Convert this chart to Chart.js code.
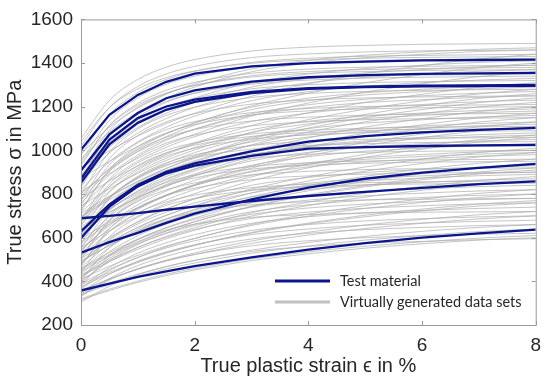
<!DOCTYPE html>
<html>
<head>
<meta charset="utf-8">
<script src="https://cdn.jsdelivr.net/npm/chart.js@4.4.1/dist/chart.umd.min.js"></script>
<style>
  html, body { margin: 0; padding: 0; background: #fff; }
</style>
</head>
<body>
<canvas id="stress-chart" width="550" height="384"></canvas>
<script>
'use strict'

const strain = [0, 0.5, 1, 1.5, 2, 3, 4, 5, 6, 7, 8];
const xTicks = [0, 2, 4, 6, 8];
const yTicks = [200, 400, 600, 800, 1000, 1200, 1400, 1600];
const seriesNames = ['Test material', 'Virtually generated data sets'];

// measured flow curves (blue)
const testCurves = [
    [1003, 1163, 1254, 1314, 1352, 1385, 1400, 1407, 1412, 1414, 1416],
    [908, 1073, 1171, 1239, 1275, 1315, 1335, 1345, 1350, 1353, 1355],
    [870, 1050, 1148, 1201, 1232, 1268, 1285, 1292, 1296, 1298, 1300],
    [852, 1028, 1126, 1186, 1222, 1262, 1282, 1290, 1293, 1295, 1296],
    [629, 752, 842, 902, 940, 995, 1040, 1065, 1082, 1094, 1103],
    [599, 742, 835, 895, 930, 975, 1008, 1015, 1020, 1023, 1025],
    [689, 700, 713, 728, 742, 768, 791, 810, 828, 845, 858],
    [531, 580, 622, 668, 710, 775, 829, 870, 898, 920, 938],
    [358, 390, 420, 446, 470, 510, 545, 575, 600, 620, 637]
];

// virtually generated curves (grey)
const virtualCurves = [
    [1055, 1229, 1325, 1381, 1416, 1455, 1473, 1481, 1486, 1488, 1490],
    [1040, 1196, 1282, 1333, 1364, 1399, 1414, 1422, 1426, 1428, 1430],
    [1020, 1196, 1293, 1350, 1385, 1425, 1442, 1451, 1456, 1458, 1460],
    [985, 1106, 1194, 1257, 1305, 1373, 1412, 1436, 1451, 1463, 1470],
    [980, 1164, 1265, 1325, 1362, 1403, 1422, 1431, 1435, 1438, 1440],
    [960, 1085, 1175, 1240, 1290, 1360, 1400, 1425, 1440, 1453, 1460],
    [950, 1138, 1241, 1303, 1340, 1382, 1401, 1411, 1415, 1418, 1420],
    [940, 1112, 1207, 1263, 1297, 1336, 1353, 1361, 1366, 1368, 1370],
    [930, 1114, 1215, 1275, 1312, 1353, 1372, 1381, 1385, 1388, 1390],
    [920, 998, 1066, 1123, 1170, 1248, 1305, 1352, 1388, 1419, 1440],
    [910, 1035, 1125, 1190, 1240, 1310, 1350, 1375, 1390, 1403, 1410],
    [900, 1092, 1198, 1260, 1298, 1342, 1361, 1370, 1375, 1378, 1380],
    [890, 1015, 1105, 1170, 1220, 1290, 1330, 1355, 1370, 1383, 1390],
    [880, 1064, 1165, 1225, 1262, 1303, 1322, 1331, 1335, 1338, 1340],
    [870, 950, 1018, 1077, 1124, 1204, 1262, 1310, 1347, 1379, 1400],
    [860, 988, 1079, 1146, 1197, 1268, 1309, 1334, 1350, 1362, 1370],
    [850, 1030, 1129, 1188, 1224, 1264, 1282, 1291, 1296, 1298, 1300],
    [840, 1032, 1138, 1200, 1238, 1282, 1301, 1310, 1315, 1318, 1320],
    [830, 1038, 1152, 1220, 1262, 1308, 1329, 1340, 1345, 1347, 1350],
    [820, 948, 1039, 1106, 1157, 1228, 1269, 1294, 1310, 1322, 1330],
    [810, 893, 964, 1025, 1074, 1157, 1217, 1267, 1305, 1338, 1360],
    [800, 992, 1098, 1160, 1198, 1242, 1261, 1270, 1275, 1278, 1280],
    [800, 913, 994, 1052, 1097, 1160, 1196, 1219, 1232, 1243, 1250],
    [790, 918, 1009, 1076, 1127, 1198, 1239, 1264, 1280, 1292, 1300],
    [780, 860, 928, 987, 1034, 1114, 1172, 1220, 1257, 1289, 1310],
    [775, 904, 996, 1063, 1115, 1187, 1228, 1254, 1269, 1282, 1290],
    [770, 962, 1068, 1130, 1168, 1212, 1231, 1240, 1245, 1248, 1250],
    [760, 888, 979, 1046, 1097, 1168, 1209, 1234, 1250, 1262, 1270],
    [750, 934, 1035, 1095, 1132, 1173, 1192, 1201, 1205, 1208, 1210],
    [745, 825, 895, 954, 1002, 1082, 1141, 1189, 1227, 1259, 1280],
    [740, 863, 951, 1014, 1063, 1132, 1171, 1196, 1210, 1223, 1230],
    [730, 906, 1003, 1060, 1095, 1135, 1152, 1161, 1166, 1168, 1170],
    [720, 912, 1018, 1080, 1118, 1162, 1181, 1190, 1195, 1198, 1200],
    [715, 834, 919, 981, 1029, 1095, 1133, 1157, 1171, 1183, 1190],
    [710, 790, 858, 917, 964, 1044, 1102, 1150, 1187, 1219, 1240],
    [700, 784, 857, 918, 969, 1053, 1114, 1165, 1204, 1238, 1260],
    [695, 774, 842, 900, 947, 1026, 1084, 1131, 1168, 1199, 1220],
    [690, 813, 901, 964, 1013, 1082, 1121, 1146, 1160, 1173, 1180],
    [680, 868, 971, 1033, 1070, 1112, 1131, 1141, 1145, 1148, 1150],
    [675, 789, 871, 930, 975, 1039, 1075, 1098, 1112, 1123, 1130],
    [670, 846, 943, 1000, 1035, 1075, 1092, 1101, 1106, 1108, 1110],
    [660, 785, 875, 940, 990, 1060, 1100, 1125, 1140, 1153, 1160],
    [655, 833, 931, 989, 1024, 1064, 1082, 1091, 1096, 1098, 1100],
    [650, 733, 804, 865, 914, 997, 1057, 1107, 1145, 1178, 1200],
    [640, 717, 783, 839, 885, 961, 1017, 1063, 1099, 1130, 1150],
    [635, 715, 785, 844, 892, 972, 1031, 1079, 1117, 1149, 1170],
    [630, 753, 841, 904, 953, 1022, 1061, 1086, 1100, 1113, 1120],
    [620, 808, 911, 973, 1010, 1052, 1071, 1081, 1085, 1088, 1090],
    [615, 729, 811, 870, 915, 979, 1015, 1038, 1052, 1063, 1070],
    [610, 782, 877, 933, 967, 1006, 1023, 1031, 1036, 1038, 1040],
    [600, 725, 815, 880, 930, 1000, 1040, 1065, 1080, 1093, 1100],
    [595, 672, 739, 796, 842, 919, 976, 1022, 1059, 1089, 1110],
    [590, 778, 881, 943, 980, 1022, 1041, 1051, 1055, 1058, 1060],
    [580, 663, 734, 795, 844, 927, 987, 1037, 1075, 1108, 1130],
    [575, 753, 851, 909, 944, 984, 1002, 1011, 1016, 1018, 1020],
    [570, 698, 789, 856, 907, 978, 1019, 1044, 1060, 1072, 1080],
    [560, 683, 771, 834, 883, 952, 991, 1016, 1030, 1043, 1050],
    [555, 632, 699, 756, 802, 879, 936, 982, 1019, 1049, 1070],
    [550, 730, 829, 888, 924, 964, 982, 991, 996, 998, 1000],
    [545, 656, 736, 794, 839, 901, 937, 959, 972, 983, 990],
    [540, 663, 751, 814, 863, 932, 971, 996, 1010, 1023, 1030],
    [530, 702, 797, 853, 887, 926, 943, 951, 956, 958, 960],
    [525, 644, 729, 791, 839, 905, 943, 967, 981, 993, 1000],
    [520, 601, 671, 731, 779, 860, 920, 968, 1006, 1038, 1060],
    [515, 677, 766, 819, 851, 888, 904, 912, 916, 918, 920],
    [510, 628, 712, 773, 820, 886, 924, 947, 961, 973, 980],
    [505, 581, 646, 702, 747, 823, 879, 924, 960, 990, 1010],
    [500, 680, 779, 838, 874, 914, 932, 941, 946, 948, 950],
    [495, 565, 625, 676, 718, 788, 839, 881, 914, 941, 960],
    [490, 565, 630, 685, 730, 805, 860, 905, 940, 970, 990],
    [485, 589, 663, 717, 759, 817, 850, 871, 883, 894, 900],
    [480, 593, 674, 732, 777, 840, 876, 899, 912, 923, 930],
    [475, 629, 714, 764, 795, 829, 845, 852, 856, 858, 860],
    [470, 642, 737, 793, 827, 866, 883, 891, 896, 898, 900],
    [465, 571, 648, 703, 746, 805, 839, 860, 873, 884, 890],
    [460, 532, 594, 647, 690, 762, 815, 858, 892, 921, 940],
    [455, 523, 582, 632, 673, 742, 792, 833, 865, 892, 910],
    [450, 555, 631, 685, 727, 786, 820, 841, 853, 864, 870],
    [445, 516, 578, 630, 673, 744, 797, 839, 873, 901, 920],
    [440, 604, 694, 748, 780, 817, 834, 842, 846, 848, 850],
    [435, 536, 609, 662, 702, 759, 791, 812, 824, 834, 840],
    [430, 498, 556, 606, 646, 714, 763, 804, 835, 862, 880],
    [425, 490, 547, 595, 634, 699, 747, 786, 817, 843, 860],
    [420, 520, 592, 644, 684, 740, 772, 792, 804, 814, 820],
    [415, 506, 572, 619, 656, 707, 736, 754, 765, 775, 780],
    [410, 469, 519, 562, 597, 656, 699, 734, 761, 784, 800],
    [405, 555, 638, 686, 716, 750, 765, 773, 776, 778, 780],
    [400, 490, 555, 602, 638, 688, 717, 735, 746, 755, 760],
    [395, 496, 569, 622, 662, 719, 751, 772, 784, 794, 800],
    [390, 455, 510, 558, 596, 661, 708, 747, 777, 803, 820],
    [385, 441, 490, 531, 565, 621, 663, 696, 723, 745, 760],
    [380, 516, 591, 635, 662, 693, 706, 713, 717, 718, 720],
    [375, 434, 486, 529, 565, 624, 667, 703, 731, 754, 770],
    [370, 463, 529, 577, 614, 666, 696, 714, 725, 734, 740],
    [365, 449, 509, 553, 586, 633, 660, 677, 687, 695, 700],
    [360, 411, 455, 493, 523, 574, 612, 642, 666, 686, 700],
    [355, 410, 457, 497, 530, 585, 625, 658, 684, 705, 720],
    [350, 433, 492, 535, 568, 614, 640, 657, 667, 675, 680],
    [345, 392, 433, 468, 496, 543, 578, 606, 629, 647, 660],
    [340, 385, 424, 457, 484, 529, 562, 589, 610, 628, 640],
    [335, 406, 458, 495, 523, 563, 586, 600, 609, 616, 620],
    [330, 413, 472, 515, 548, 594, 620, 637, 647, 655, 660],
    [320, 364, 401, 433, 459, 503, 535, 561, 581, 598, 610],
    [315, 358, 395, 426, 452, 495, 526, 552, 572, 589, 600],
    [305, 378, 430, 467, 496, 537, 560, 575, 583, 591, 595]
];

const blue = 'rgb(12, 22, 140)';
const grey = 'rgba(172, 172, 172, 0.7)';
const textColor = '#262626';
const axisColor = '#9a9a9a';
const sans = 'Liberation Sans, Arial, sans-serif';

const toPoints = ys => ys.map((y, i) => ({ x: strain[i], y: y }));

const datasets = [];
testCurves.forEach(c => {
    datasets.push({
        label: seriesNames[0],
        data: toPoints(c),
        borderColor: blue,
        borderWidth: 2.3,
        pointRadius: 0,
        tension: 0,
        fill: false
    });
});
virtualCurves.forEach(c => {
    datasets.push({
        label: seriesNames[1],
        data: toPoints(c),
        borderColor: grey,
        borderWidth: 1,
        pointRadius: 0,
        cubicInterpolationMode: 'monotone',
        fill: false
    });
});

// MATLAB-like box with inward ticks on all four sides, plus the legend
const boxPlugin = {
    id: 'box',
    afterDatasetsDraw(chart) {
        const { ctx, chartArea: a, scales: { x, y } } = chart;
        ctx.save();
        ctx.strokeStyle = axisColor;
        ctx.lineWidth = 1;
        ctx.strokeRect(a.left + 0.5, a.top + 0.5, a.right - a.left, a.bottom - a.top);
        ctx.beginPath();
        xTicks.forEach(v => {
            const px = Math.round(x.getPixelForValue(v)) + 0.5;
            ctx.moveTo(px, a.bottom); ctx.lineTo(px, a.bottom - 4);
            ctx.moveTo(px, a.top); ctx.lineTo(px, a.top + 4);
        });
        yTicks.forEach(v => {
            const py = Math.round(y.getPixelForValue(v)) + 0.5;
            ctx.moveTo(a.left, py); ctx.lineTo(a.left + 4, py);
            ctx.moveTo(a.right, py); ctx.lineTo(a.right - 4, py);
        });
        ctx.stroke();

        const items = [[seriesNames[0], blue], [seriesNames[1], '#c0c0c0']];
        ctx.font = '14.5px Lato';
        ctx.textBaseline = 'middle';
        items.forEach((it, i) => {
            const ly = 281 + i * 21;
            ctx.strokeStyle = it[1];
            ctx.lineWidth = 3;
            ctx.beginPath();
            ctx.moveTo(275, ly); ctx.lineTo(330, ly);
            ctx.stroke();
            ctx.fillStyle = textColor;
            ctx.fillText(it[0], 340, ly);
        });
        ctx.restore();
    }
};

const ctx = document.getElementById('stress-chart').getContext('2d');
const stressChart = new Chart(ctx, {
    type: 'line',
    data: { datasets: datasets },
    options: {
        responsive: false,
        animation: false,
        devicePixelRatio: 1,
        layout: { padding: { top: 15, right: 11, left: 0, bottom: 0 } },
        plugins: { legend: { display: false }, tooltip: { enabled: false } },
        scales: {
            x: {
                type: 'linear',
                min: 0,
                max: 8,
                afterBuildTicks: s => { s.ticks = xTicks.map(v => ({ value: v })); },
                afterFit: s => { s.height = 59; },
                grid: { display: false, drawTicks: false },
                border: { display: false },
                ticks: { color: textColor, font: { family: sans, size: 19 }, padding: 9, callback: v => String(v) },
                title: {
                    display: true,
                    text: 'True plastic strain \u03f5 in %',
                    color: textColor,
                    font: { family: sans, size: 20 },
                    padding: { top: 0, bottom: 6 }
                }
            },
            y: {
                type: 'linear',
                min: 200,
                max: 1600,
                afterBuildTicks: s => { s.ticks = yTicks.map(v => ({ value: v })); },
                afterFit: s => { s.width = 81; },
                grid: { display: false, drawTicks: false },
                border: { display: false },
                ticks: { color: textColor, font: { family: sans, size: 19 }, padding: 8, callback: v => String(v) },
                title: {
                    display: true,
                    text: 'True stress \u03c3 in MPa',
                    color: textColor,
                    font: { family: sans, size: 20 },
                    padding: { top: 3, bottom: 0 }
                }
            }
        }
    },
    plugins: [boxPlugin]
});
</script>
</body>
</html>
